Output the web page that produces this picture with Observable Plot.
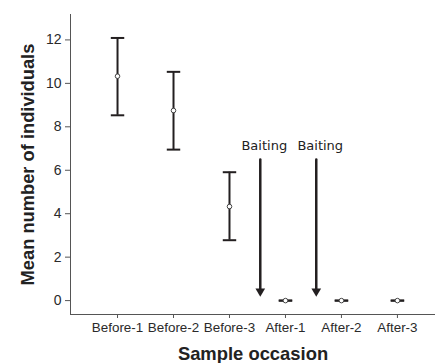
<!DOCTYPE html>
<html>
<head>
<meta charset="utf-8">
<script src="https://cdn.jsdelivr.net/npm/d3@7"></script>
<script src="https://cdn.jsdelivr.net/npm/@observablehq/plot@0.6"></script>
<style>
  html, body { margin: 0; padding: 0; background: #fff; }
  #chart svg { display: block; }
</style>
</head>
<body>
<div id="chart"></div>
<script>
const occasions = ["Before-1", "Before-2", "Before-3", "After-1", "After-2", "After-3"];
const means = [10.33, 8.75, 4.33, 0, 0, 0];
const lower = [8.53, 6.95, 2.78, 0, 0, 0];
const upper = [12.09, 10.53, 5.91, 0, 0, 0];
const yTicks = [0, 2, 4, 6, 8, 10, 12];
const baitingPos = [3.55, 4.55];
const baitingTop = 6.49;
const baitingTip = 0.18;
const baitingLabel = "Baiting";
const xTitle = "Sample occasion";
const yTitle = "Mean number of individuals";

const xDomain = [0.16, 6.68];
const yDomain = [-0.64, 13.17];

const rows = occasions.map((o, i) => ({i: i + 1, o, mean: means[i], lo: lower[i], hi: upper[i]}));
const arrows = baitingPos.map(x => ({x, top: baitingTop, tip: baitingTip, label: baitingLabel}));
const capW = 0.12;
const ink = "#231f20";
const sans = "'Liberation Sans', Arial, sans-serif";

const chart = Plot.plot({
  width: 435,
  height: 363,
  marginLeft: 70,
  marginRight: 0,
  marginTop: 14,
  marginBottom: 49,
  style: {fontFamily: sans, background: "#fff", color: "#333"},
  x: {domain: xDomain, axis: null},
  y: {domain: yDomain, axis: null},
  marks: [
    Plot.ruleX([xDomain[0]], {stroke: "#555", strokeWidth: 1}),
    Plot.ruleY([yDomain[0]], {stroke: "#555", strokeWidth: 1}),
    Plot.axisX({ticks: occasions.map((_, i) => i + 1), tickFormat: d => occasions[d - 1], tickSize: 4, tickPadding: 4, fontSize: 13.4, label: null, stroke: "#555", color: "#2a2a2a"}),
    Plot.axisY({ticks: yTicks, tickSize: 5, tickPadding: 4, fontSize: 14, label: null, stroke: "#555", color: "#2a2a2a"}),
    Plot.ruleX(rows, {x: "i", y1: "lo", y2: "hi", stroke: ink, strokeWidth: 2}),
    Plot.link(rows, {x1: d => d.i - capW, x2: d => d.i + capW, y1: "hi", y2: "hi", stroke: ink, strokeWidth: 2}),
    Plot.link(rows, {x1: d => d.i - capW, x2: d => d.i + capW, y1: "lo", y2: "lo", stroke: ink, strokeWidth: 2}),
    Plot.dot(rows, {x: "i", y: "mean", r: 2.3, fill: "#fff", stroke: "#444", strokeWidth: 1}),
    Plot.arrow(arrows, {x1: "x", x2: "x", y1: "top", y2: "tip", headLength: 0, insetEnd: 7, stroke: ink, strokeWidth: 2.5}),
    Plot.dot(arrows, {x: "x", y: "tip", symbol: "triangle", rotate: 180, r: 3.6, fill: ink, stroke: "none", dy: -5.5}),
    Plot.text(arrows, {x: "x", y: "top", text: "label", dx: 4, dy: -14, fontSize: 13, fontFamily: "'DejaVu Sans', sans-serif", fill: "#222"}),
    Plot.text([xTitle], {frameAnchor: "bottom", text: d => d, dy: 45, fontSize: 18.4, fontWeight: "bold", fill: "#222"}),
    Plot.text([yTitle], {frameAnchor: "left", textAnchor: "middle", text: d => d, dx: -42, rotate: -90, fontSize: 18.3, fontWeight: "bold", fill: "#222"})
  ]
});
document.getElementById("chart").appendChild(chart);
</script>
</body>
</html>
